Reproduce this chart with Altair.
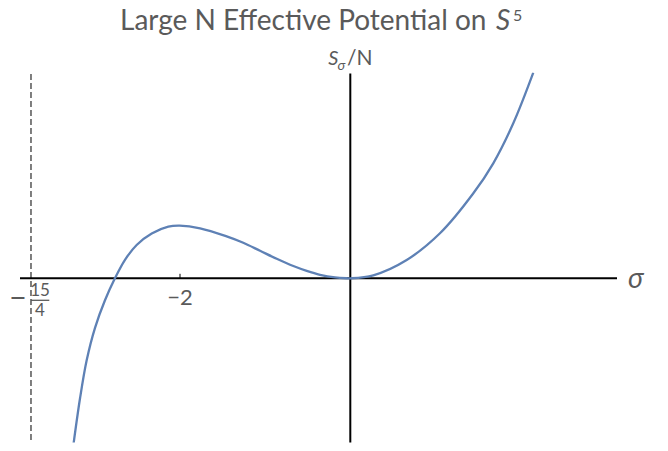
import altair as alt
import pandas as pd

# ---- data ----
sigma = [-3.265, -3.174, -3.096, -2.998, -2.881, -2.764, -2.646, -2.509, -2.332,
         -2.137, -2.004, -1.764, -1.452, -1.257, -1.060, -0.864, -0.669, -0.512,
         -0.356, -0.180, -0.042, 0.000, 0.270, 0.662, 1.053, 1.445, 1.679, 1.914, 2.149]
s_over_n = [-3.500, -2.400, -1.640, -0.990, -0.440, 0.000, 0.370, 0.666, 0.895,
            1.032, 1.052, 1.000, 0.838, 0.710, 0.550, 0.390, 0.245, 0.148,
            0.070, 0.017, 0.001, 0.000, 0.060, 0.366, 0.900, 1.700, 2.300, 3.100, 4.112]

pole = -3.75          # dashed asymptote at sigma = -15/4
tick_values = [-2]
tick_texts = ["\u22122"]
x_domain = [-3.879, 3.132]
y_domain = [-3.284, 4.116]
y_axis_span = [-3.284, 4.096]
pole_span = [-3.234, 4.116]

TEXT = "#5a5a5a"
FONT = "Lato"
W, H = 597, 370

xs = alt.Scale(domain=x_domain, nice=False, zero=False)
ys = alt.Scale(domain=y_domain, nice=False, zero=False)


def X(f):
    return alt.X(f, scale=xs, axis=None)


def Y(f):
    return alt.Y(f, scale=ys, axis=None)


curve_df = pd.DataFrame({"sigma": sigma, "S": s_over_n})

curve = alt.Chart(curve_df).mark_line(
    color="#5E81B5", strokeWidth=2.3, interpolate="catmull-rom", clip=True
).encode(x=X("sigma:Q"), y=Y("S:Q"))

xaxis = alt.Chart(pd.DataFrame({"a": [x_domain[0]], "b": [x_domain[1]], "y": [0]})).mark_rule(
    color="black", strokeWidth=2
).encode(x=X("a:Q"), x2="b:Q", y=Y("y:Q"))

yaxis = alt.Chart(pd.DataFrame({"x": [0], "a": [y_axis_span[0]], "b": [y_axis_span[1]]})).mark_rule(
    color="black", strokeWidth=2
).encode(x=X("x:Q"), y=Y("a:Q"), y2="b:Q")

pole_line = alt.Chart(pd.DataFrame({"x": [pole], "a": [pole_span[0]], "b": [pole_span[1]]})).mark_rule(
    color="#555555", strokeWidth=1.5, strokeDash=[6, 3]
).encode(x=X("x:Q"), y=Y("a:Q"), y2="b:Q")

tick_df = pd.DataFrame({"x": tick_values, "y": [0.0] * len(tick_values),
                        "y2": [0.09] * len(tick_values), "lab": tick_texts})
ticks = alt.Chart(tick_df).mark_rule(color="black", strokeWidth=1).encode(
    x=X("x:Q"), y=Y("y:Q"), y2="y2:Q")
tick_labels = alt.Chart(tick_df).mark_text(
    font=FONT, fontSize=22, color=TEXT, baseline="middle", align="center", dy=20
).encode(x=X("x:Q"), y=Y("y:Q"), text="lab:N")

# -15/4 label as a stacked fraction
frac_df = pd.DataFrame({"x": [pole], "y": [0.0], "m": ["\u2212"], "n": ["15"], "d": ["4"]})
frac_minus = alt.Chart(frac_df).mark_text(
    font=FONT, fontSize=30, color=TEXT, baseline="middle", align="center", dx=-13, dy=21
).encode(x=X("x:Q"), y=Y("y:Q"), text="m:N")
frac_num = alt.Chart(frac_df).mark_text(
    font=FONT, fontSize=17, color=TEXT, baseline="middle", align="center", dx=9, dy=13
).encode(x=X("x:Q"), y=Y("y:Q"), text="n:N")
frac_den = alt.Chart(frac_df).mark_text(
    font=FONT, fontSize=17, color=TEXT, baseline="middle", align="center", dx=9, dy=33
).encode(x=X("x:Q"), y=Y("y:Q"), text="d:N")
frac_bar_df = pd.DataFrame({"a": [pole], "b": [-3.535], "y": [0.0]})
frac_bar = alt.Chart(frac_bar_df).mark_rule(color=TEXT, strokeWidth=1.3, yOffset=22).encode(
    x=X("a:Q"), x2="b:Q", y=Y("y:Q"))


def label(txt, x, y, size, italic=False, align="left", baseline="alphabetic"):
    df = pd.DataFrame({"t": [txt]})
    return alt.Chart(df).mark_text(
        font=FONT, fontSize=size, color=TEXT, align=align, baseline=baseline,
        fontStyle="italic" if italic else "normal"
    ).encode(x=alt.value(x), y=alt.value(y), text="t:N")


title_main = label("Large N Effective Potential on", 466.5, -43.0, 28, align="right")
title_s = label("S", 476.0, -43.0, 28, italic=True)
title_5 = label("5", 493.0, -51.5, 16)

ylab_s = label("S", 308.3, -7.2, 20, italic=True)
ylab_sub = label("\u03c3", 317.5, -3.0, 14, italic=True)
ylab_n = label("/N", 327.0, -7.2, 21)

xlab = label("\u03c3", 608.0, 207.5, 28, italic=True, baseline="middle")

chart = alt.layer(
    pole_line, xaxis, yaxis, ticks, curve, tick_labels,
    frac_minus, frac_num, frac_den, frac_bar,
    title_main, title_s, title_5, ylab_s, ylab_sub, ylab_n, xlab,
).properties(
    width=W, height=H,
    autosize=alt.AutoSizeParams(type="none"),
    padding={"left": 12, "top": 64.5, "right": 43, "bottom": 0},
).configure_view(stroke=None)

chart.save("out.html", embed_options={"renderer": "svg", "actions": False})
